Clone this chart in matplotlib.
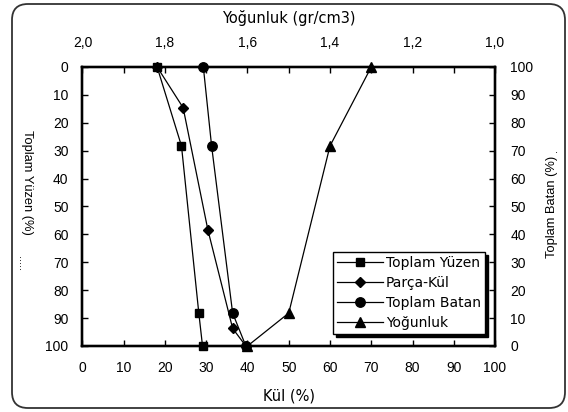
import matplotlib
matplotlib.use("Agg")
import matplotlib.pyplot as plt
from matplotlib.patches import FancyBboxPatch
from matplotlib.ticker import MultipleLocator, FuncFormatter

plt.rcParams['font.family'] = ['Liberation Sans', 'DejaVu Sans']

# Toplam Yuzen - kul (%) vs toplam yuzen (%)
yuzen_kul = [18.1, 24.0, 28.2, 29.1]
yuzen = [0, 28.3, 88.2, 100]
# Parca-Kul
parca_kul = [18.1, 24.4, 30.4, 36.4, 39.6]
parca_yuzen = [0, 14.6, 58.4, 93.7, 100]
# Toplam Batan (sag eksen)
batan_kul = [29.3, 31.3, 36.4, 39.6]
batan = [100, 71.7, 11.8, 0]
# Yogunluk (ust eksen)
yogunluk = [1.3, 1.4, 1.5, 1.6]
yogunluk_yuzen = [0, 28.3, 88.2, 100]

fig = plt.figure(figsize=(5.68, 4.12), dpi=100)
ax = fig.add_axes([0.1452, 0.1602, 0.7263, 0.6772])
ax2 = ax.twinx()
ax3 = ax.twiny()

ax.set_xlim(0, 100)
ax.set_ylim(100, 0)
ax2.set_ylim(0, 100)
ax3.set_xlim(2.0, 1.0)

l1, = ax.plot(yuzen_kul, yuzen, 'k-', marker='s', ms=6, lw=0.9, label='Toplam Yüzen')
l2, = ax.plot(parca_kul, parca_yuzen, 'k-', marker='D', ms=4.8, lw=0.9, label='Parça-Kül')
l3, = ax2.plot(batan_kul, batan, 'k-', marker='o', ms=6.8, lw=0.9, label='Toplam Batan', clip_on=False)
l4, = ax3.plot(yogunluk, yogunluk_yuzen, 'k-', marker='^', ms=7, lw=0.9, label='Yoğunluk', clip_on=False)
l1.set_clip_on(False)
l2.set_clip_on(False)

comma = FuncFormatter(lambda v, p: f"{v:.1f}".replace('.', ','))

ax.xaxis.set_major_locator(MultipleLocator(10))
ax.yaxis.set_major_locator(MultipleLocator(10))
ax2.yaxis.set_major_locator(MultipleLocator(10))
ax3.xaxis.set_major_locator(MultipleLocator(0.2))
ax3.xaxis.set_minor_locator(MultipleLocator(0.1))
ax3.xaxis.set_major_formatter(comma)

ax.tick_params(axis='x', direction='in', length=4, width=1, pad=11, labelsize=10, top=False)
ax.tick_params(axis='y', direction='in', length=4, width=1, pad=10, labelsize=10, right=False)
ax2.tick_params(axis='y', direction='in', length=4, width=1, pad=11, labelsize=10)
ax3.tick_params(axis='x', which='both', direction='in', length=4, width=1, pad=12, labelsize=10)

for a in (ax, ax2, ax3):
    for s in a.spines.values():
        s.set_linewidth(1.6)

wide = ['DejaVu Sans']
fig.text(0.508, 1 - 396 / 412, 'Kül (%)', ha='center', va='center', fontsize=10.5, family=wide)
fig.text(0.508, 1 - 18 / 412, 'Yoğunluk (gr/cm3)', ha='center', va='center', fontsize=10.5,
         family=wide)
fig.text(27 / 568, 1 - 182 / 412, 'Toplam Yüzen (%)', ha='center', va='center',
         rotation=270, fontsize=9.3)
fig.text(21 / 568, 1 - 264 / 412, '.....', ha='center', va='center', rotation=270, fontsize=8)
fig.text(552 / 568, 1 - 207 / 412, 'Toplam Batan (%)', ha='center', va='center',
         rotation=90, fontsize=9.3)
fig.text(556 / 568, 1 - 150 / 412, '.', ha='center', va='center', fontsize=8)

leg = ax3.legend(handles=[l1, l2, l3, l4], loc='upper left', bbox_to_anchor=(0.607, 0.337),
                 borderaxespad=0, fancybox=False, framealpha=1, edgecolor='black',
                 prop={'family': wide, 'size': 10}, handlelength=3.3, handletextpad=0.2,
                 labelspacing=0.42, borderpad=0.3, shadow={'color': 'black', 'alpha': 1})
leg.get_frame().set_linewidth(1)

border = FancyBboxPatch((12 / 568, 4 / 412), 553 / 568, 404 / 412,
                        boxstyle="round,pad=0,rounding_size=0.028",
                        mutation_aspect=568 / 412, transform=fig.transFigure,
                        fill=False, edgecolor='#333333', linewidth=1.3)
fig.patches.append(border)

fig.savefig('out.png', dpi=100)
